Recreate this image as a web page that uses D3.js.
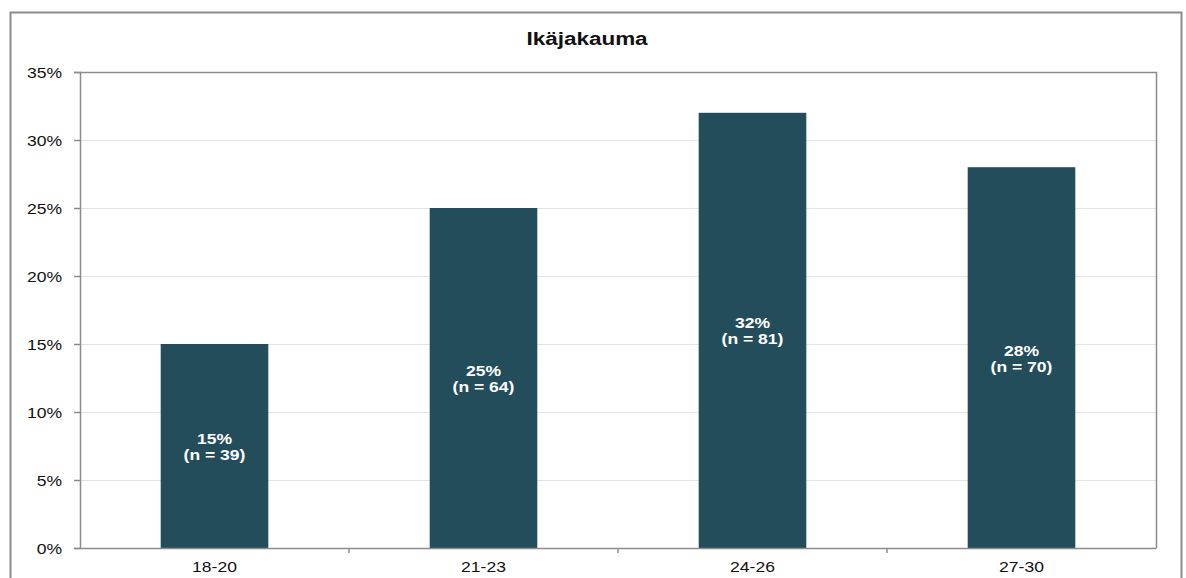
<!DOCTYPE html>
<html>
<head>
<meta charset="utf-8">
<script src="https://cdn.jsdelivr.net/npm/d3@7"></script>
<style>
html,body{margin:0;padding:0;background:#fff;}
svg{display:block;font-family:"Liberation Sans",Arial,sans-serif;}
</style>
</head>
<body>
<svg id="chart" width="1186" height="578"></svg>
<script>
const title = "Ikäjakauma";
const categories = ["18-20", "21-23", "24-26", "27-30"];
const values = [15, 25, 32, 28];
const counts = [39, 64, 81, 70];
const yTicks = [0, 5, 10, 15, 20, 25, 30, 35];

const svg = d3.select("#chart");
const W = 1186, H = 578;
const m = {left: 80, right: 1156, top: 72, bottom: 548};
const SX = 1.17; // horizontal stretch of text seen in reference

// outer frame
svg.append("path")
  .attr("d", `M10.5,${H + 5} V12.5 H1181.5 V${H + 5}`)
  .attr("fill", "none").attr("stroke", "#8c8c8c").attr("stroke-width", 2);

const x = d3.scaleBand().domain(categories).range([m.left, m.right]).paddingInner(0.6).paddingOuter(0.3);
const y = d3.scaleLinear().domain([0, 35]).range([m.bottom, m.top]);

// gridlines
svg.append("g").selectAll("line").data(yTicks.filter(t => t > 0 && t < 35)).join("line")
  .attr("x1", m.left).attr("x2", m.right)
  .attr("y1", d => Math.round(y(d)) + 0.5).attr("y2", d => Math.round(y(d)) + 0.5)
  .attr("stroke", "#e3e3e3").attr("stroke-width", 1);

// plot frame top & right
svg.append("path")
  .attr("d", `M${m.left},${m.top + 0.5} H${m.right + 0.5} V${m.bottom}`)
  .attr("fill", "none").attr("stroke", "#8c8c8c").attr("stroke-width", 1.5);

// bars
svg.append("g").selectAll("rect").data(values).join("rect")
  .attr("x", (d, i) => x(categories[i]))
  .attr("width", x.bandwidth())
  .attr("y", d => y(d))
  .attr("height", d => y(0) - y(d))
  .attr("fill", "#234d5b");

// bar labels
const lab = svg.append("g").selectAll("text").data(values).join("text")
  .attr("text-anchor", "middle")
  .attr("fill", "#ffffff")
  .attr("font-size", 15)
  .attr("font-weight", "bold")
  .attr("transform", (d, i) => `translate(${x(categories[i]) + x.bandwidth() / 2},${(y(0) + y(d)) / 2}) scale(${SX},1)`);
lab.append("tspan").attr("x", 0).attr("y", -2).text(d => d + "%");
lab.append("tspan").attr("x", 0).attr("y", 14).text((d, i) => "(n = " + counts[i] + ")");

// y axis
const yAxis = d3.axisLeft(y).tickValues(yTicks).tickFormat(d => d + "%").tickSize(6).tickPadding(0);
const gy = svg.append("g").attr("transform", `translate(${m.left},0)`).call(yAxis);
gy.select(".domain").attr("stroke", "#8c8c8c").attr("stroke-width", 1.5);
gy.selectAll(".tick line").attr("stroke", "#8c8c8c").attr("stroke-width", 1.5);
gy.selectAll(".tick text")
  .attr("x", null).attr("dy", null).attr("y", 5)
  .attr("transform", `translate(-18,0) scale(${SX},1)`)
  .attr("font-size", 15).attr("fill", "#111").attr("font-family", "Liberation Sans, Arial, sans-serif");

// x axis
const xAxis = d3.axisBottom(x).tickSize(0).tickPadding(0);
const gx = svg.append("g").attr("transform", `translate(0,${m.bottom})`).call(xAxis);
gx.select(".domain").attr("stroke", "#8c8c8c").attr("stroke-width", 1.5);
gx.selectAll(".tick text")
  .attr("y", null).attr("dy", null)
  .attr("transform", `translate(0,24) scale(${SX},1)`)
  .attr("font-size", 15).attr("fill", "#111").attr("font-family", "Liberation Sans, Arial, sans-serif");
// category boundary ticks
const step = x.step();
const bounds = categories.slice(1).map(c => x(c) - x.paddingInner() * step / 2);
svg.append("g").selectAll("line").data(bounds).join("line")
  .attr("x1", d => d).attr("x2", d => d)
  .attr("y1", m.bottom).attr("y2", m.bottom + 5)
  .attr("stroke", "#8c8c8c").attr("stroke-width", 1.5);

// title
svg.append("text").attr("text-anchor", "middle")
  .attr("transform", "translate(587,45) scale(1.25,1)")
  .attr("font-size", 18).attr("font-weight", "bold").attr("fill", "#111").text(title);
</script>
</body>
</html>
